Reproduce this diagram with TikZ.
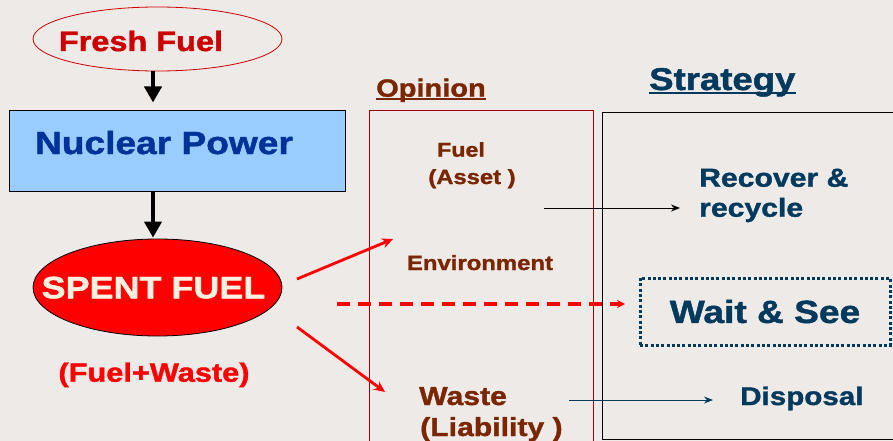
\documentclass[tikz,border=0pt]{standalone}
\usepackage{fontspec}
\setmainfont{Liberation Sans}
\newfontfamily\widesans[FakeStretch=1.16,FakeBold=1.4]{Liberation Sans}
\usetikzlibrary{arrows.meta, shapes.geometric}

\definecolor{bg}{HTML}{EEEAE7}
\definecolor{freshred}{HTML}{CC0000}
\definecolor{boxblue}{HTML}{99CCFF}
\definecolor{powerblue}{HTML}{003399}
\definecolor{spentred}{HTML}{FF0000}
\definecolor{cream}{HTML}{FCF0E0}
\definecolor{opbrown}{HTML}{7A2600}
\definecolor{opframe}{HTML}{A00000}
\definecolor{navy}{HTML}{023A5E}

% heavy, slightly widened sans at a given size
\newcommand\lbl[1]{\fontsize{#1}{#1}\selectfont\widesans\bfseries}

\tikzset{
  txt/.style={inner sep=0pt, anchor=base},
  txtl/.style={inner sep=0pt, anchor=base west},
  bigarrow/.style={line width=4pt, -{Triangle[length=16pt,width=17pt]}},
  redarrow/.style={spentred, line width=2.8pt, -{Stealth[length=11pt,width=10pt]}},
  thinarrow/.style={line width=1pt, -{Stealth[length=9pt,width=7pt]}},
}

\begin{document}
\begin{tikzpicture}[x=1pt, y=-1pt]
  \clip (0,0) rectangle (893,441);
  \fill[bg] (0,0) rectangle (893,441);

  % ---- left column: fuel cycle ----
  \node[ellipse, draw=freshred, line width=0.8pt, minimum width=249pt,
        minimum height=64pt, inner sep=0pt] (fresh) at (157.5,39) {};
  \node[txt, text=freshred, font=\lbl{28}] (freshtxt) at (141,51) {Fresh Fuel};

  \node[draw=black, fill=boxblue, line width=1pt, minimum width=336pt,
        minimum height=80pt, inner sep=0pt] (power) at (177,151) {};
  \node[txt, text=powerblue, font=\lbl{32}] (powertxt) at (164,154) {Nuclear Power};

  \node[ellipse, draw=black, fill=spentred, line width=0.8pt, minimum width=249pt,
        minimum height=97pt, inner sep=0pt] (spent) at (157.5,287.5) {};
  \node[txt, text=cream, font=\lbl{31}] (spenttxt) at (153.5,298.3) {SPENT FUEL};
  \node[txt, text=spentred, font=\lbl{26.5}] (mix) at (154,381.7) {(Fuel+Waste)};

  \coordinate (axis) at (153,0);
  \draw[bigarrow, shorten >=8pt] (fresh.south -| axis) -- (power.north -| axis);
  \draw[bigarrow, shorten >=1pt] (power.south -| axis) -- (spent.north -| axis);

  % ---- frames ----
  \draw[opframe, line width=1pt] (369,111) rectangle (593,450);
  \draw[black, line width=1pt] (602,113) rectangle (900,439);

  % ---- headings ----
  \node[txtl, text=opbrown, font=\lbl{25}] (ophead) at (376,96.7) {Opinion};
  \draw[opbrown, line width=1.6pt] ([yshift=-2.5pt]ophead.base west) -- ([yshift=-2.5pt]ophead.base east);
  \node[txtl, text=navy, font=\lbl{31.5}] (sthead) at (649,90) {Strategy};
  \draw[navy, line width=2pt] ([yshift=-3pt]sthead.base west) -- ([yshift=-3pt]sthead.base east);

  % ---- opinions ----
  \node[txt, text=opbrown, font=\lbl{20}] (fuel) at (461,156.7) {Fuel};
  \node[txt, text=opbrown, font=\lbl{20.5}] (asset) at (472,184) {(Asset )};
  \node[txt, text=opbrown, font=\lbl{20.6}] (env) at (480,270) {Environment};
  \node[txtl, text=opbrown, font=\lbl{26}] (waste) at (419,405) {Waste};
  \node[txtl, text=opbrown, font=\lbl{26}] (liab) at (420,436) {(Liability )};

  % ---- strategies ----
  \node[txtl, text=navy, font=\lbl{26}] (recover) at (699,186.7) {Recover \&};
  \node[txtl, text=navy, font=\lbl{26}] (recycle) at (699,216.7) {recycle};
  \node[draw=navy, line width=3pt, dash pattern=on 3pt off 2.3pt,
        minimum width=250pt, minimum height=67pt, inner sep=0pt,
        text=navy, font=\lbl{32}] (wait) at (765,311.5) {Wait \& See};
  \node[txtl, text=navy, font=\lbl{25.5}] (disposal) at (740,405) {Disposal};

  % ---- connectors ----
  \coordinate (r1s) at (297,279);  \coordinate (r1e) at (393,239);
  \coordinate (r2s) at (297,327);  \coordinate (r2e) at (385,392);
  \coordinate (dashs) at (337,304); \coordinate (dashe) at (625,304);
  \coordinate (fuels) at (544,208); \coordinate (fuele) at (680,208);
  \coordinate (wastes) at (569,400); \coordinate (wastee) at (713,400);

  \draw[redarrow] (r1s) -- (r1e);
  \draw[redarrow] (r2s) -- (r2e);
  \draw[spentred, line width=3.5pt, dash pattern=on 13pt off 8pt,
        -{Stealth[length=8pt,width=8pt]}] (dashs) -- (dashe);
  \draw[thinarrow, black] (fuels) -- (fuele);
  \draw[thinarrow, navy] (wastes) -- (wastee);
\end{tikzpicture}
\end{document}
